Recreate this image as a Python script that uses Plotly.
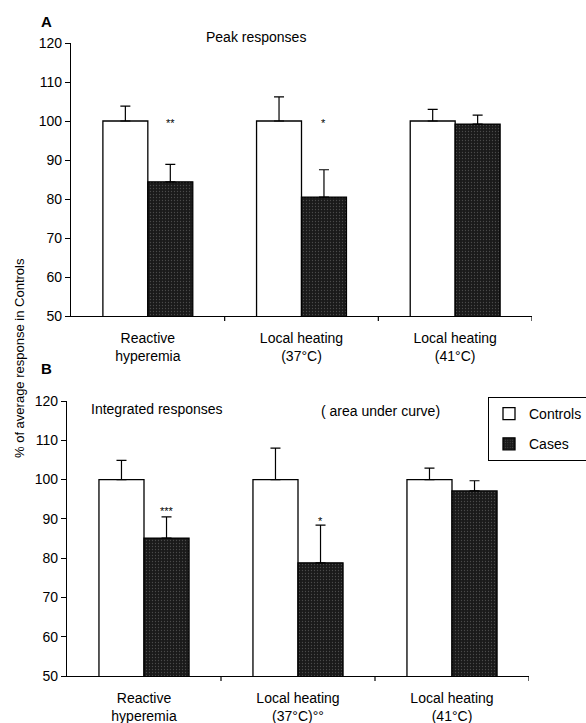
import plotly.graph_objects as go

cats_a = ["Reactive<br>hyperemia", "Local heating<br>(37°C)", "Local heating<br>(41°C)"]
cats_b = ["Reactive<br>hyperemia", "Local heating<br>(37°C)°°", "Local heating<br>(41°C)"]

peak_controls = [100, 100, 100]
peak_controls_err = [3.8, 6.2, 3.0]
peak_cases = [84.4, 80.5, 99.2]
peak_cases_err = [4.5, 7.0, 2.3]
peak_sig = ["**", "*", ""]
peak_sig_y = [99.6, 99.6, None]

int_controls = [100, 100, 100]
int_controls_err = [4.9, 8.0, 2.9]
int_cases = [85.1, 78.8, 97.1]
int_cases_err = [5.4, 9.6, 2.6]
int_sig = ["***", "*", ""]
int_sig_y = [92.0, 89.4, None]

FONT = "Liberation Sans, Arial, sans-serif"
BARGAP = 0.415

fig = go.Figure()

def add_panel(xa, ya, ctrl, ctrl_err, cases, cases_err, showlegend):
    fig.add_trace(go.Bar(
        x=list(range(3)), y=ctrl, name="Controls", xaxis=xa, yaxis=ya,
        marker=dict(color="white", line=dict(color="black", width=1.3)),
        error_y=dict(type="data", array=ctrl_err, arrayminus=[0]*3, symmetric=False,
                     color="black", thickness=1.2, width=5),
        showlegend=showlegend, legendgroup="c",
    ))
    fig.add_trace(go.Bar(
        x=list(range(3)), y=cases, name="Cases", xaxis=xa, yaxis=ya,
        marker=dict(color="#1a1a1a", line=dict(color="black", width=1.3),
                    pattern=dict(shape=".", fgcolor="#7a7a7a", size=3, solidity=0.15)),
        error_y=dict(type="data", array=cases_err, arrayminus=[0]*3, symmetric=False,
                     color="black", thickness=1.2, width=5),
        showlegend=showlegend, legendgroup="k",
    ))

add_panel("x", "y", peak_controls, peak_controls_err, peak_cases, peak_cases_err, False)
add_panel("x2", "y2", int_controls, int_controls_err, int_cases, int_cases_err, True)

W, H = 586, 723
def dx(a, b):
    return [a / W, b / W]
def dy(top, bottom):
    return [1 - bottom / H, 1 - top / H]

axis_common = dict(showline=True, linecolor="black", linewidth=1.2, showgrid=False,
                   zeroline=False, ticks="outside", ticklen=5, tickcolor="black",
                   automargin=False,
                   tickfont=dict(family=FONT, size=14, color="black"))
xaxis_extra = dict(ticks="", ticklabelstandoff=9)

fig.update_layout(
    width=W, height=H, margin=dict(l=0, r=0, t=0, b=0, autoexpand=False),
    paper_bgcolor="white", plot_bgcolor="white",
    barmode="group", bargap=BARGAP, bargroupgap=0,
    font=dict(family=FONT, color="black"),
    xaxis=dict(domain=dx(71, 532), anchor="y", range=[-0.5, 2.5],
               tickvals=[0, 1, 2], ticktext=cats_a, **{**axis_common, **xaxis_extra}),
    yaxis=dict(domain=dy(43, 316), anchor="x", range=[50, 120], dtick=10, **axis_common),
    xaxis2=dict(domain=dx(67, 529), anchor="y2", range=[-0.5, 2.5],
                tickvals=[0, 1, 2], ticktext=cats_b, **{**axis_common, **xaxis_extra}),
    yaxis2=dict(domain=dy(401, 676), anchor="x2", range=[50, 120], dtick=10, **axis_common),
    legend=dict(x=488 / W, y=1 - 397 / H, xanchor="left", yanchor="top",
                bordercolor="black", borderwidth=1, bgcolor="white",
                font=dict(family=FONT, size=14, color="black"),
                traceorder="grouped", itemwidth=30, tracegroupgap=9),
)

# boundary tick marks on the category axes
for xa, ya in (("x", "y"), ("x2", "y2")):
    for b in (0.5, 1.5, 2.5):
        fig.add_shape(type="line", xref=xa, yref=ya + " domain", x0=b, x1=b, y0=0, y1=-0.018,
                      line=dict(color="black", width=1.2))

bar_w = (1 - BARGAP) / 2
ann = []
for i, (s, yy) in enumerate(zip(peak_sig, peak_sig_y)):
    if s:
        ann.append(dict(x=i + bar_w / 2, y=yy, xref="x", yref="y", text=s, showarrow=False,
                        font=dict(size=11, family=FONT), yanchor="middle"))
for i, (s, yy) in enumerate(zip(int_sig, int_sig_y)):
    if s:
        ann.append(dict(x=i + bar_w / 2, y=yy, xref="x2", yref="y2", text=s, showarrow=False,
                        font=dict(size=11, family=FONT), yanchor="middle"))

ann += [
    dict(x=46 / W, y=1 - 21 / H, xref="paper", yref="paper", text="<b>A</b>", showarrow=False,
         font=dict(size=15, family=FONT), xanchor="center", yanchor="middle"),
    dict(x=46 / W, y=1 - 368 / H, xref="paper", yref="paper", text="<b>B</b>", showarrow=False,
         font=dict(size=15, family=FONT), xanchor="center", yanchor="middle"),
    dict(x=256 / W, y=1 - 37 / H, xref="paper", yref="paper", text="Peak responses",
         showarrow=False, font=dict(size=14, family=FONT), xanchor="center", yanchor="middle"),
    dict(x=157 / W, y=1 - 409 / H, xref="paper", yref="paper", text="Integrated responses",
         showarrow=False, font=dict(size=14, family=FONT), xanchor="center", yanchor="middle"),
    dict(x=380 / W, y=1 - 411 / H, xref="paper", yref="paper", text="( area under curve)",
         showarrow=False, font=dict(size=14, family=FONT), xanchor="center", yanchor="middle"),
    dict(x=19 / W, y=1 - 358 / H, xref="paper", yref="paper",
         text="% of average response in Controls", textangle=-90,
         showarrow=False, font=dict(size=13, family=FONT), xanchor="center", yanchor="middle"),
]
fig.update_layout(annotations=ann)

fig.write_html("out.html")
